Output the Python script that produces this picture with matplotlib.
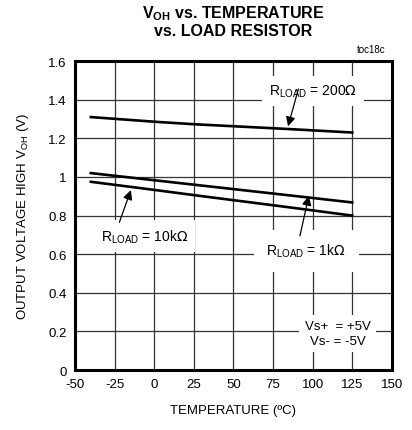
import matplotlib.pyplot as plt
import numpy as np

plt.rcParams['font.family'] = ['Liberation Sans Narrow', 'Liberation Sans', 'DejaVu Sans']
plt.rcParams['axes.unicode_minus'] = False

# curves
temp = [-40, 0, 25, 85, 125]
v_200 = [1.31, 1.286, 1.273, 1.248, 1.23]
v_10k = [1.02, 0.983, 0.96, 0.905, 0.868]
v_1k = [0.975, 0.933, 0.906, 0.843, 0.80]

xticks = [-50, -25, 0, 25, 50, 75, 100, 125, 150]
yticks = [0, 0.2, 0.4, 0.6, 0.8, 1.0, 1.2, 1.4, 1.6]
yticklabels = ['0', '0.2', '0.4', '0.6', '0.8', '1', '1.2', '1.4', '1.6']

fig = plt.figure(figsize=(4.12, 4.31), dpi=100)
ax = fig.add_axes([0.182, 0.139, 0.769, 0.717])

ax.plot(temp, v_200, color='black', lw=1.9, zorder=3)
ax.plot(temp, v_10k, color='black', lw=1.9, zorder=3)
ax.plot(temp, v_1k, color='black', lw=1.9, zorder=3)

ax.set_xlim(-50, 150)
ax.set_ylim(0, 1.6)
ax.set_xticks(xticks)
ax.set_yticks(yticks)
ax.set_yticklabels(yticklabels)
ax.tick_params(length=0, labelsize=9.5, pad=6)
ax.grid(True, color='#333333', lw=0.9)
ax.set_axisbelow(True)
for s in ax.spines.values():
    s.set_linewidth(2.2)

box = dict(facecolor='white', edgecolor='none', pad=5)
arrow = dict(arrowstyle='-|>', color='black', lw=0.9, mutation_scale=14, shrinkA=0, shrinkB=0)

ax.text(100, 1.445, r'R$_{\mathregular{LOAD}}$ = 200$\Omega$', fontsize=10,
        ha='center', va='center', bbox=box, zorder=4)
ax.annotate('', xy=(84.5, 1.262), xytext=(91, 1.455), arrowprops=arrow, zorder=5)

ax.text(-6, 0.695, r'R$_{\mathregular{LOAD}}$ = 10k$\Omega$', fontsize=10,
        ha='center', va='center', bbox=box, zorder=4)
ax.annotate('', xy=(-14.7, 0.932), xytext=(-22, 0.765), arrowprops=arrow, zorder=5)

ax.text(96, 0.618, r'R$_{\mathregular{LOAD}}$ = 1k$\Omega$', fontsize=10,
        ha='center', va='center', bbox=dict(facecolor='white', edgecolor='none', pad=9), zorder=4)
ax.annotate('', xy=(97.6, 0.902), xytext=(92, 0.695), arrowprops=arrow, zorder=5)

ax.text(116, 0.19, 'Vs+  = +5V\nVs- = -5V', fontsize=9.5, ha='center', va='center',
        linespacing=1.3, bbox=dict(facecolor='white', edgecolor='none', pad=4), zorder=4)

fig.text(0.935, 0.872, 'toc18c', fontsize=7, ha='right', va='bottom')
fig.text(0.565, 0.91, 'V$_{\\mathregular{OH}}$ vs. TEMPERATURE\nvs. LOAD RESISTOR',
         fontsize=11.5, fontweight='bold', ha='center', va='bottom', linespacing=1.1)
ax.set_xlabel('TEMPERATURE (ºC)', fontsize=9.5, labelpad=10)
ax.set_ylabel('OUTPUT VOLTAGE HIGH V$_{\\mathregular{OH}}$ (V)', fontsize=9.5, labelpad=12)

fig.savefig('out.png', dpi=100)
